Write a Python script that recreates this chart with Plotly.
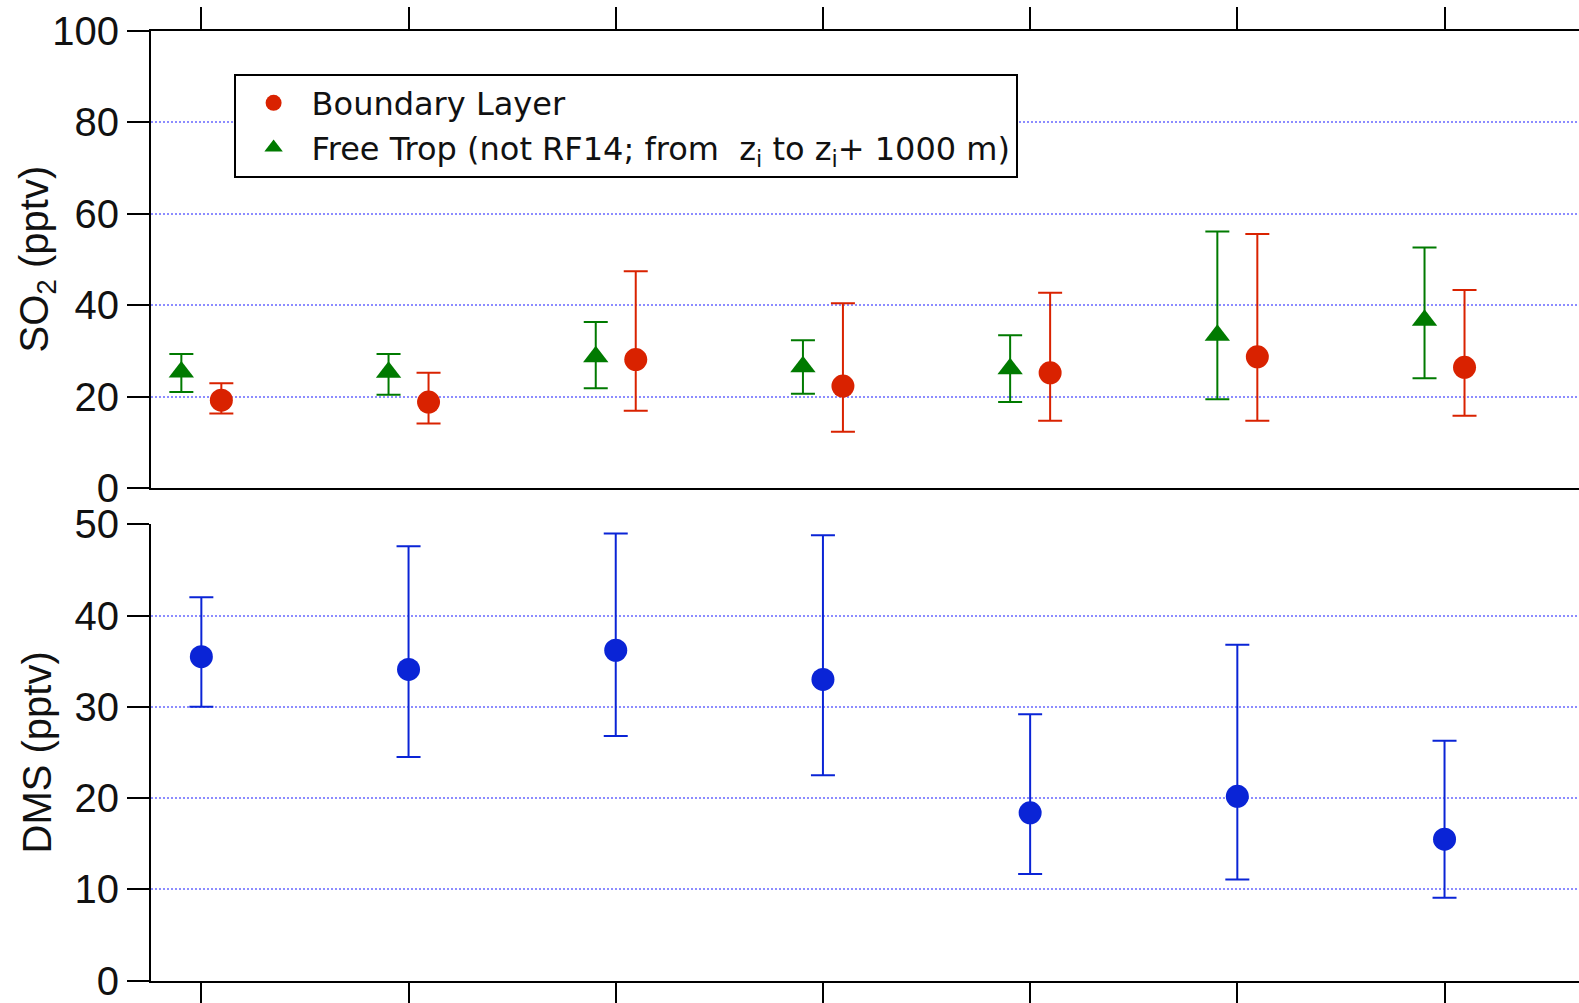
import plotly.graph_objects as go

# Flight groups along the x axis (no tick labels are shown)
flight_idx = [1, 2, 3, 4, 5, 6, 7]

# SO2 in the boundary layer (pptv): centre, upper and lower bar ends
bl_so2 = [19.2, 18.8, 28.1, 22.3, 25.2, 28.7, 26.4]
bl_so2_hi = [22.9, 25.2, 47.4, 40.4, 42.7, 55.6, 43.3]
bl_so2_lo = [16.3, 14.1, 16.9, 12.3, 14.7, 14.7, 15.8]

# SO2 in the free troposphere (pptv)
ft_so2 = [25.4, 25.3, 28.7, 26.5, 26.1, 33.4, 36.7]
ft_so2_hi = [29.3, 29.3, 36.3, 32.3, 33.4, 56.1, 52.6]
ft_so2_lo = [21.0, 20.4, 21.8, 20.6, 18.8, 19.4, 24.0]

# DMS in the boundary layer (pptv)
dms = [35.5, 34.1, 36.2, 33.0, 18.4, 20.2, 15.5]
dms_hi = [42.0, 47.6, 49.0, 48.8, 29.2, 36.8, 26.3]
dms_lo = [30.0, 24.5, 26.8, 22.5, 11.7, 11.1, 9.1]

so2_ticks = [0, 20, 40, 60, 80, 100]
dms_ticks = [0, 10, 20, 30, 40, 50]

RED = "#d92200"
GREEN = "#007a00"
BLUE = "#0a24d6"
GRID = "#8c8cff"
FONT = "Liberation Sans"
LEGEND_FONT = "DejaVu Sans"
SHIFT = 0.0965  # side-by-side offset of the two SO2 series

def up(hi, c):
    return [h - v for h, v in zip(hi, c)]

def down(lo, c):
    return [v - l for l, v in zip(lo, c)]

fig = go.Figure()

fig.add_trace(go.Scatter(
    x=[i + SHIFT for i in flight_idx], y=bl_so2, mode="markers",
    name="Boundary Layer",
    marker=dict(symbol="circle", size=23, color=RED),
    error_y=dict(type="data", symmetric=False, array=up(bl_so2_hi, bl_so2),
                 arrayminus=down(bl_so2_lo, bl_so2), color=RED,
                 thickness=2, width=12),
    xaxis="x", yaxis="y",
))
fig.add_trace(go.Scatter(
    x=[i - SHIFT for i in flight_idx], y=ft_so2, mode="markers",
    name="Free Trop (not RF14; from&nbsp; z<sub>i</sub> to z<sub>i</sub>+ 1000 m)",
    marker=dict(symbol="triangle-up", size=22, color=GREEN),
    error_y=dict(type="data", symmetric=False, array=up(ft_so2_hi, ft_so2),
                 arrayminus=down(ft_so2_lo, ft_so2), color=GREEN,
                 thickness=2, width=12),
    xaxis="x", yaxis="y",
))
fig.add_trace(go.Scatter(
    x=flight_idx, y=dms, mode="markers", name="DMS", showlegend=False,
    marker=dict(symbol="circle", size=23, color=BLUE),
    error_y=dict(type="data", symmetric=False, array=up(dms_hi, dms),
                 arrayminus=down(dms_lo, dms), color=BLUE,
                 thickness=2, width=12),
    xaxis="x2", yaxis="y2",
))

xr = [0.757, 7.649]
top_dom = [0.5135, 0.9691]
bot_dom = [0.0222, 0.4773]

common_y = dict(
    showline=True, linecolor="black", linewidth=2,
    ticks="outside", ticklen=22, tickwidth=2, tickcolor="black",
    showgrid=True, gridcolor=GRID, gridwidth=1.5, griddash="2px,2px",
    zeroline=False, tickfont=dict(family=FONT, size=40, color="#111"),
    ticklabelstandoff=0, automargin=False, mirror=False,
)

fig.update_layout(
    width=1579, height=1003,
    margin=dict(l=151, r=0, t=0, b=0),
    paper_bgcolor="white", plot_bgcolor="white",
    font=dict(family=FONT, color="#111"),
    showlegend=True,
    legend=dict(
        x=(233.6 - 151) / 1428, y=1 - 73.5 / 1003,
        xanchor="left", yanchor="top",
        bgcolor="white", bordercolor="black", borderwidth=2,
        font=dict(family=LEGEND_FONT, size=32, color="#111"),
        itemwidth=66, tracegroupgap=0,
    ),
    xaxis=dict(
        domain=[0, 1], range=xr, anchor="y", side="top",
        tickvals=flight_idx, showticklabels=False,
        ticks="outside", ticklen=22, tickwidth=2, tickcolor="black",
        showline=True, linecolor="black", linewidth=2, mirror=True,
        showgrid=False, zeroline=False, automargin=False,
    ),
    yaxis=dict(domain=top_dom, range=[0, 100], tickvals=so2_ticks,
               anchor="x", **common_y),
    xaxis2=dict(
        domain=[0, 1], range=xr, anchor="y2", side="bottom",
        tickvals=flight_idx, showticklabels=False,
        ticks="outside", ticklen=22, tickwidth=2, tickcolor="black",
        showline=True, linecolor="black", linewidth=2, mirror=False,
        showgrid=False, zeroline=False, automargin=False,
    ),
    yaxis2=dict(domain=bot_dom, range=[0, 50], tickvals=dms_ticks,
                anchor="x2", **common_y),
)

# Rotated axis titles placed left of the tick labels
fig.add_annotation(
    text="SO<sub>2</sub> (pptv)", xref="paper", yref="paper",
    x=(37 - 151) / 1428, y=sum(top_dom) / 2, textangle=-90,
    xanchor="center", yanchor="middle", showarrow=False,
    font=dict(family=FONT, size=40, color="#111"),
)
fig.add_annotation(
    text="DMS (pptv)", xref="paper", yref="paper",
    x=(37 - 151) / 1428, y=sum(bot_dom) / 2, textangle=-90,
    xanchor="center", yanchor="middle", showarrow=False,
    font=dict(family=FONT, size=40, color="#111"),
)

fig.write_html("out.html")
